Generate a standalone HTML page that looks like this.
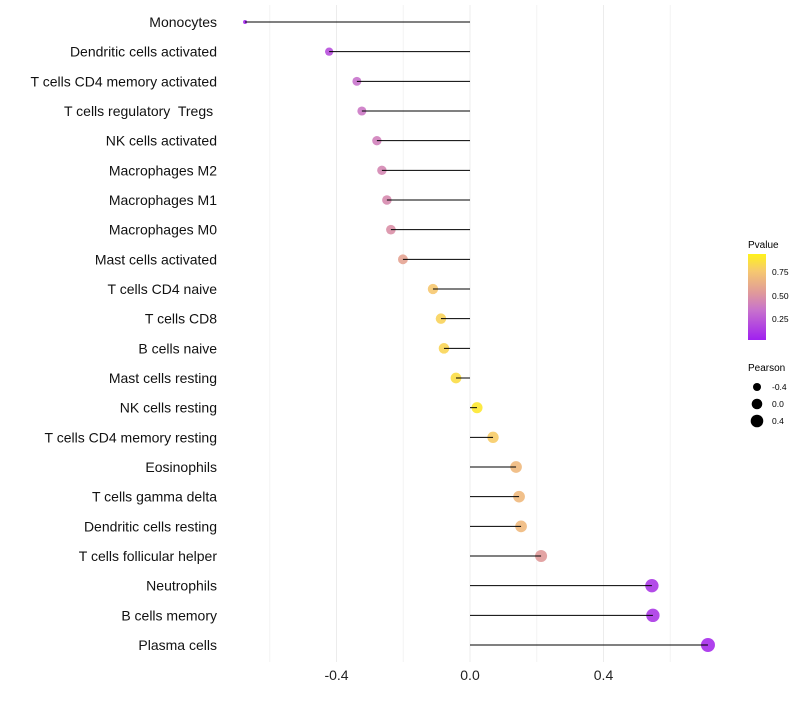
<!DOCTYPE html>
<html><head><meta charset="utf-8"><style>
body{margin:0;background:#fff;font-family:"Liberation Sans",sans-serif;}
svg text{font-family:"Liberation Sans",sans-serif;white-space:pre;}
</style></head><body>
<svg id="chart" width="800" height="700" xmlns="http://www.w3.org/2000/svg">
<defs><linearGradient id="pg" x1="0" y1="1" x2="0" y2="0">
<stop offset="0" stop-color="#a020f0"/><stop offset="0.35" stop-color="#c873cc"/><stop offset="0.55" stop-color="#e09a9a"/><stop offset="0.8" stop-color="#f6c870"/><stop offset="1" stop-color="#fff21a"/></linearGradient></defs>
<g id="grid"></g><g id="marks"></g><g id="labels"></g>
<g>
<text x="748" y="248" font-size="10">Pvalue</text>
<rect x="748" y="254" width="18" height="86" fill="url(#pg)"/>
<text x="772" y="275" font-size="8.5">0.75</text>
<text x="772" y="299" font-size="8.5">0.50</text>
<text x="772" y="322" font-size="8.5">0.25</text>
</g>
<g>
<text x="748" y="371" font-size="10">Pearson</text>
<circle cx="757" cy="387" r="4"/><text x="772" y="390" font-size="8.5">-0.4</text>
<circle cx="757" cy="404" r="5.3"/><text x="772" y="407" font-size="8.5">0.0</text>
<circle cx="757" cy="421" r="6.3"/><text x="772" y="424" font-size="8.5">0.4</text>
</g>
</svg>
<script>
const cells=["Monocytes","Dendritic cells activated","T cells CD4 memory activated","T cells regulatory  Tregs ","NK cells activated","Macrophages M2","Macrophages M1","Macrophages M0","Mast cells activated","T cells CD4 naive","T cells CD8","B cells naive","Mast cells resting","NK cells resting","T cells CD4 memory resting","Eosinophils","T cells gamma delta","Dendritic cells resting","T cells follicular helper","Neutrophils","B cells memory","Plasma cells"];
const pearson=[-0.674,-0.422,-0.339,-0.324,-0.279,-0.264,-0.249,-0.237,-0.201,-0.111,-0.087,-0.078,-0.042,0.021,0.069,0.138,0.147,0.153,0.213,0.545,0.548,0.713];
const pvalue=[0.03,0.2,0.35,0.38,0.42,0.45,0.47,0.5,0.6,0.8,0.85,0.86,0.9,0.95,0.82,0.72,0.72,0.72,0.55,0.1,0.1,0.05];
const ticks=[-0.4,0.0,0.4];
const minorTicks=[-0.6,-0.2,0.2,0.6];
const NS="http://www.w3.org/2000/svg";
const xs=v=>470+v*333.75;
const ys=i=>22+i*(623/21);
function mk(t,a,p){const e=document.createElementNS(NS,t);for(const k in a)e.setAttribute(k,a[k]);p.appendChild(e);return e;}
const stops=[[0,[160,32,240]],[0.35,[200,115,204]],[0.55,[224,154,154]],[0.8,[246,200,112]],[1,[255,242,26]]];
function col(p){p=p<0?0:p>1?1:p;for(let i=1;i<stops.length;i++){if(p<=stops[i][0]){const a=stops[i-1],b=stops[i],t=(p-a[0])/(b[0]-a[0]);return 'rgb('+a[1].map((c,j)=>Math.round(c+(b[1][j]-c)*t)).join(',')+')';}}}
const g=document.getElementById('grid'),m=document.getElementById('marks'),L=document.getElementById('labels');
minorTicks.forEach(v=>{const l=mk('line',{x1:xs(v),x2:xs(v),y1:5,y2:662,stroke:'#f4f4f4','stroke-width':1},g);

});
ticks.forEach(v=>{const l=mk('line',{x1:xs(v),x2:xs(v),y1:5,y2:662,stroke:'#ececec','stroke-width':1},g);


const t=mk('text',{x:xs(v),y:680,'font-size':14,'text-anchor':'middle',fill:'#222'},L);t.textContent=v.toFixed(1);

});
const mn=Math.min(...pearson),mx=Math.max(...pearson);
cells.forEach((c,i)=>{const y=ys(i),v=pearson[i];
const r=2+5*Math.sqrt((v-mn)/(mx-mn));
const ci=mk('circle',{cx:xs(v),cy:y,r:r,fill:col(pvalue[i]),'fill-opacity':0.9},m);


const ln=mk('line',{x1:xs(0),x2:xs(v),y1:y,y2:y,stroke:'#000','stroke-width':1},m);


const t=mk('text',{x:217,y:y+5,'font-size':14,'text-anchor':'end',fill:'#111'},L);t.textContent=c;

});
</script>
</body></html>
